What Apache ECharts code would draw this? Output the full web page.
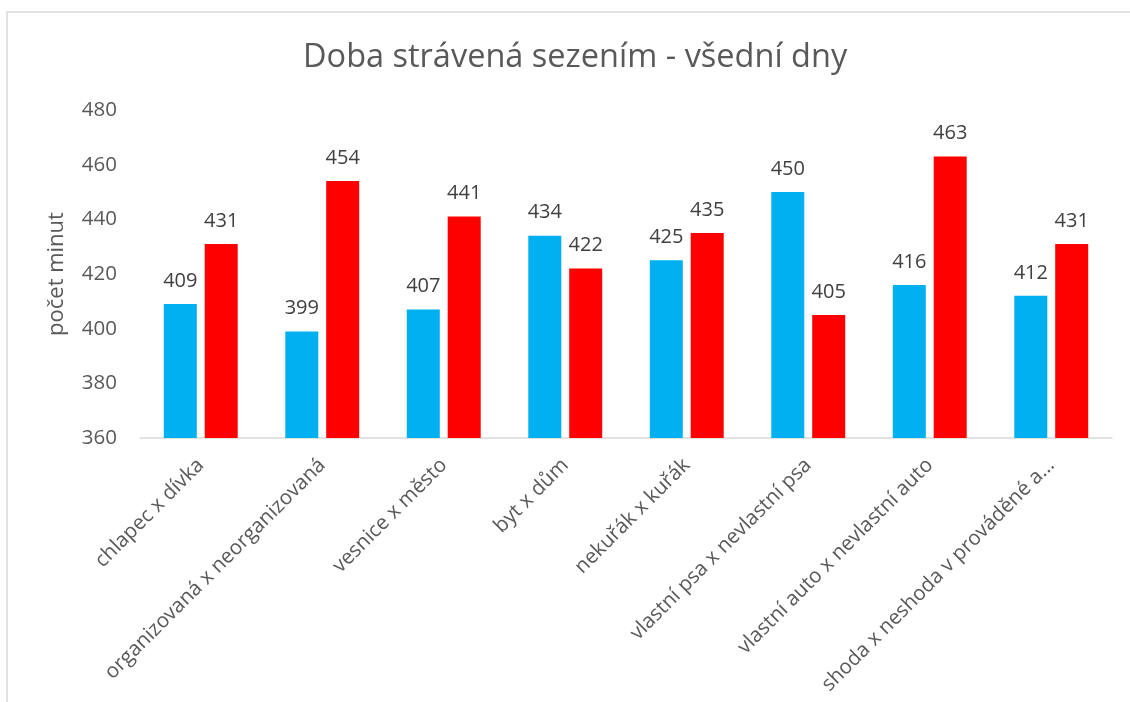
<!DOCTYPE html>
<html>
<head>
<meta charset="utf-8">
<script src="https://cdn.jsdelivr.net/npm/echarts@6/dist/echarts.min.js"></script>
<style>
  html, body { margin: 0; padding: 0; background: #fff; }
  #chart { width: 1130px; height: 702px; }
</style>
</head>
<body>
<div id="chart"></div>
<script>
var categories = ['chlapec x dívka', 'organizovaná x neorganizovaná', 'vesnice x město', 'byt x dům',
    'nekuřák x kuřák', 'vlastní psa x nevlastní psa', 'vlastní auto x nevlastní auto', 'shoda x neshoda v prováděné a...'];
var firstValues = [409, 399, 407, 434, 425, 450, 416, 412];
var secondValues = [431, 454, 441, 422, 435, 405, 463, 431];
var yTicks = { min: 360, max: 480, interval: 20 };

var myChart = echarts.init(document.getElementById('chart'));
var font = '"Open Sans", sans-serif';

var labelStyle = {
    show: true,
    position: 'top',
    distance: 13,
    color: '#404040',
    fontSize: 20,
    fontFamily: font
};

var option = {
    animation: false,
    title: {
        text: 'Doba strávená sezením - všední dny',
        left: 298,
        top: 36,
        textStyle: { color: '#595959', fontSize: 32.5, fontWeight: 'normal', fontFamily: font }
    },
    graphic: [{
        type: 'rect',
        shape: { x: 7, y: 12, width: 1140, height: 700 },
        style: { fill: 'none', stroke: '#d9d9d9', lineWidth: 1.5 },
        silent: true
    }],
    grid: { left: 140, right: 18, top: 110, bottom: 264 },
    xAxis: {
        type: 'category',
        data: categories,
        axisLine: { lineStyle: { color: '#d9d9d9', width: 1.5 } },
        axisTick: { show: false },
        axisLabel: {
            interval: 0,
            rotate: 45,
            margin: 24,
            color: '#595959',
            fontSize: 20.5,
            fontFamily: font
        }
    },
    yAxis: {
        type: 'value',
        min: yTicks.min,
        max: yTicks.max,
        interval: yTicks.interval,
        name: 'počet minut',
        nameLocation: 'middle',
        nameGap: 72,
        nameTextStyle: { color: '#595959', fontSize: 22, fontFamily: font },
        axisLine: { show: false },
        axisTick: { show: false },
        splitLine: { show: false },
        axisLabel: { margin: 23, color: '#595959', fontSize: 20.5, fontFamily: font }
    },
    series: [
        {
            type: 'bar',
            data: firstValues,
            barWidth: 33,
            barGap: '24%',
            itemStyle: { color: '#00b0f0' },
            label: labelStyle
        },
        {
            type: 'bar',
            data: secondValues,
            barWidth: 33,
            itemStyle: { color: '#ff0000' },
            label: labelStyle
        }
    ]
};
myChart.setOption(option);
</script>
</body>
</html>
